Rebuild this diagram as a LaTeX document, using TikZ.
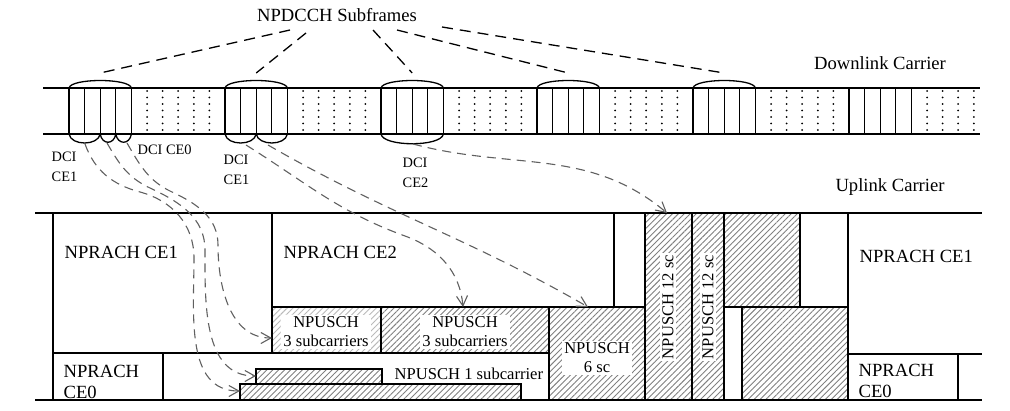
\documentclass[tikz,border=0pt]{standalone}
\usepackage{fontspec}
\setmainfont{Liberation Serif}
\usetikzlibrary{patterns.meta,arrows.meta}

\begin{document}
\begin{tikzpicture}[x=0.5pt,y=-0.5pt,line width=0.65pt,
    hatchbox/.style={pattern={Lines[angle=45,distance=2.1pt,line width=0.45pt]},pattern color=gray},
    lighthatchbox/.style={pattern={Lines[angle=45,distance=2.1pt,line width=0.45pt]},pattern color=gray!55},
    bigtext/.style={font=\fontsize{9.3}{10.3}\selectfont,inner sep=0pt,align=left},
    dcitext/.style={font=\fontsize{7.2}{10}\selectfont,inner sep=0pt,align=left},
    boxtext/.style={font=\fontsize{8.3}{9.5}\selectfont,fill=white,inner sep=1pt,align=center},
    sfline/.style={dash pattern=on 5.5pt off 3.5pt},
    dciarrow/.style={draw=gray!75!black,line width=0.55pt,dash pattern=on 4.5pt off 3pt,
      -{Straight Barb[length=5pt,width=5.5pt]}}]
  \useasboundingbox (0,0) rectangle (1010,411);

  %downlink carrier
  \draw (43,88) -- (980,88);
  \draw (43,134) -- (980,134);
  \foreach \k in {0,...,5}
    \foreach \j in {0,...,4}
      \draw ({69+156*\k+15.6*\j},88) -- ({69+156*\k+15.6*\j},134);
  \foreach \k in {0,...,4}
    \foreach \m in {1,...,5}
      \foreach \d in {0,...,6}
        \fill ({131.4+156*\k+15.6*\m},{91+6.5*\d}) circle (0.5pt);
  \foreach \m in {1,...,4}
    \foreach \d in {0,...,6}
      \fill ({911.4+15.6*\m},{91+6.5*\d}) circle (0.5pt);

  %npdcch subframes
  \foreach \k in {0,...,4} {
    \draw ({69+156*\k},88) .. controls ({71+156*\k},78) and ({129.4+156*\k},78) .. ({131.4+156*\k},88);
    \coordinate (top\k) at ({100.2+156*\k},73);
  }
  \draw (69,134) .. controls (71,146) and (98.2,146) .. (100.2,134)
    .. controls (102,145) and (114,145) .. (115.8,134)
    .. controls (117.6,145) and (129.6,145) .. (131.4,134);
  \draw (225,134) .. controls (227,146) and (254.2,146) .. (256.2,134)
    .. controls (258.2,146) and (285.4,146) .. (287.4,134);
  \draw (381,134) .. controls (383,147) and (441.4,147) .. (443.4,134);

  %uplink carrier
  \draw[lighthatchbox] (272,307) rectangle (381,353);
  \draw[hatchbox] (381,307) rectangle (549,353);
  \draw[hatchbox] (549,307) rectangle (645,400);
  \draw[hatchbox] (645,213) rectangle (692,400);
  \draw[hatchbox] (692,213) rectangle (724,400);
  \draw[hatchbox] (724,213) rectangle (800,307);
  \draw[hatchbox] (742,307) rectangle (848,400);
  \draw[hatchbox] (256,369) rectangle (382,384);
  \draw[hatchbox] (240,384) rectangle (521,400);
  \draw (35,213) -- (982,213);
  \draw (35,400) -- (982,400);
  \draw (53,213) -- (53,400);
  \draw (272,213) -- (272,353);
  \draw (53,353) -- (549,353);
  \draw (163,353) -- (163,400);
  \draw (272,307) -- (614,307) -- (614,213);
  \draw (724,307) -- (848,307);
  \draw (848,213) -- (848,400);
  \draw (848,354) -- (982,354);
  \draw (958,354) -- (958,400);

  %nodes
  \node[bigtext] (npdcch) at (337,15) {NPDCCH Subframes};
  \node[bigtext] (dl) at (880,63) {Downlink Carrier};
  \node[bigtext] (ul) at (890,187) {Uplink Carrier};
  \node[dcitext,anchor=west] (dcia) at (51,167) {DCI\\CE1};
  \node[dcitext,anchor=west] (dcib) at (137,150) {DCI CE0};
  \node[dcitext,anchor=west] (dcic) at (223,170) {DCI\\CE1};
  \node[dcitext,anchor=west] (dcid) at (402,173) {DCI\\CE2};
  \node[bigtext,anchor=west] (prachla) at (64,252) {NPRACH CE1};
  \node[bigtext,anchor=west] (prachlb) at (63,382) {NPRACH\\CE0};
  \node[bigtext,anchor=west] (prachc) at (283,252) {NPRACH CE2};
  \node[bigtext,anchor=west] (prachra) at (859,256) {NPRACH CE1};
  \node[bigtext,anchor=west] (prachrb) at (858,381) {NPRACH\\CE0};
  \node[boxtext] (puscha) at (326,332) {NPUSCH\\3 subcarriers};
  \node[boxtext] (puschb) at (465,332) {NPUSCH\\3 subcarriers};
  \node[boxtext] (puschc) at (597,358) {NPUSCH\\6 sc};
  \node[boxtext,rotate=90] (puschd) at (668,307) {NPUSCH 12 sc};
  \node[boxtext,rotate=90] (pusche) at (708,307) {NPUSCH 12 sc};
  \node[boxtext,fill=none,anchor=west] (puschf) at (392,374) {NPUSCH 1 subcarrier};

  %coordinates
  \coordinate (s0) at (290,30);
  \coordinate (s1) at (306,33);
  \coordinate (s2) at (373,30);
  \coordinate (s3) at (397,30);
  \coordinate (s4) at (442,27);
  \coordinate (ce1a) at (85,144);
  \coordinate (ce0a) at (107,143);
  \coordinate (ce0b) at (127,143);
  \coordinate (ce1b) at (246,145);
  \coordinate (ce1c) at (268,145);
  \coordinate (ce2) at (413,144);
  \coordinate (ua) at (240,391);
  \coordinate (ub) at (256,376);
  \coordinate (uc) at (272,338);
  \coordinate (ud) at (463,307);
  \coordinate (ue) at (588,307);
  \coordinate (uf) at (667,213);

  %edges
  \foreach \k in {0,...,4}
    \path[draw,sfline] (s\k) -- (top\k);
  \path[dciarrow] (ce1a) to[out=-70,in=165] (140,192) to[out=-15,in=90] (194,258) to[out=-90,in=180] (ua);
  \path[dciarrow] (ce0a) to[out=-60,in=155] (150,188) to[out=-25,in=90] (205,250) to[out=-90,in=180] (ub);
  \path[dciarrow] (ce0b) to[out=-60,in=155] (172,192) to[out=-25,in=90] (218,245) to[out=-90,in=180] (uc);
  \path[dciarrow] (ce1b) to[out=-32,in=160] (405,236) to[out=-20,in=95] (ud);
  \path[dciarrow] (ce1c) to[out=-30,in=150] (ue);
  \path[dciarrow] (ce2) to[out=-15,in=140] (uf);
\end{tikzpicture}
\end{document}
